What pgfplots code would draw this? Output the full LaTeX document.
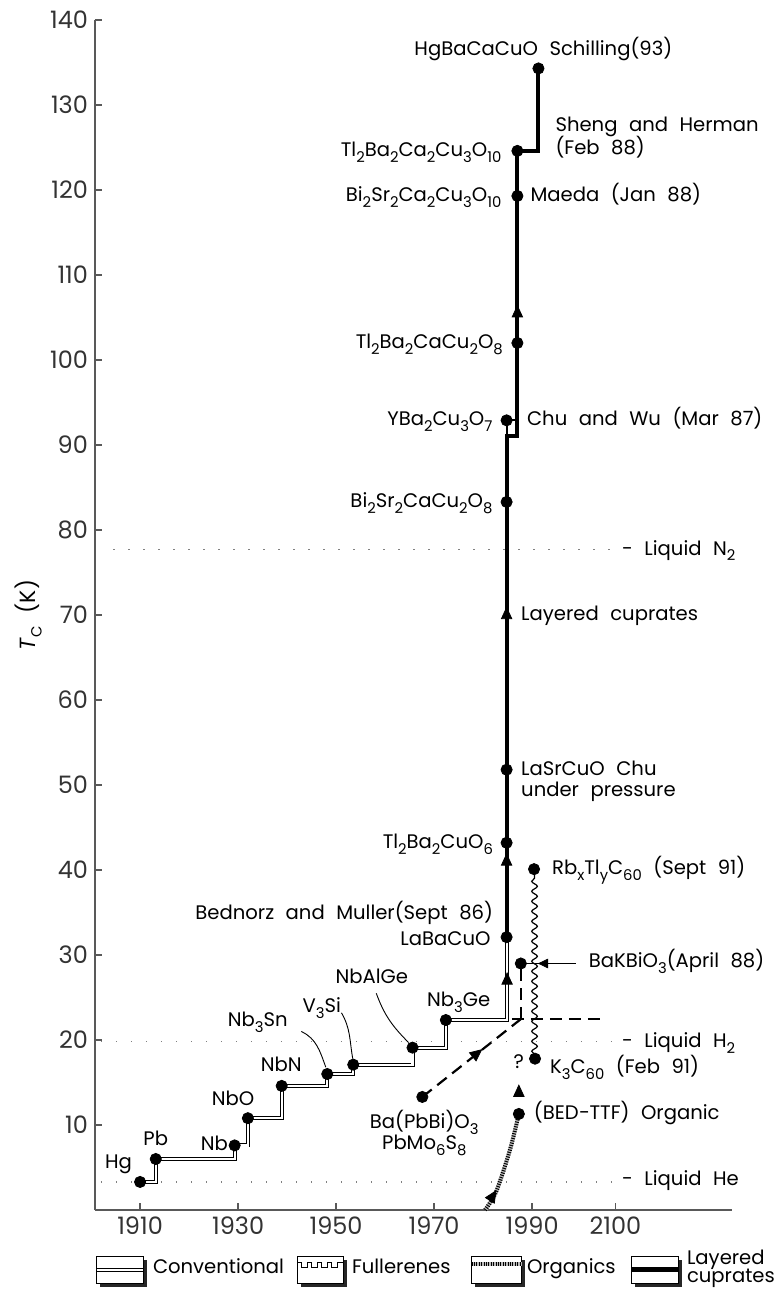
\documentclass[border=0pt]{standalone}
\usepackage{fontspec}
\setmainfont{Poppins}[WordSpace=2.2]
\usepackage{pgfplots}
\pgfplotsset{compat=1.18}
\usetikzlibrary{decorations.pathmorphing,calc}
\newcommand{\s}[1]{\raisebox{-0.55ex}{\fontsize{7.4}{8}\selectfont #1}}
\definecolor{axgray}{gray}{0.35}

\begin{document}
\begin{tikzpicture}[font=\fontsize{9.8}{11.8}\selectfont]
\begin{axis}[name=ax, scale only axis, width=318.5pt, height=595pt,
  xmin=1900.8, xmax=2030.8, ymin=0, ymax=140,
  axis x line*=bottom, axis y line*=left,
  axis line style={axgray, line width=0.9pt, -},
  xtick={1910,1930,1950,1970,1990,2007},
  xticklabels={1910,1930,1950,1970,1990,2100},
  ytick={10,20,...,140},
  tick style={axgray, line width=0.8pt}, major tick length=3.5pt,
  tick align=inside,
  /pgf/number format/assume math mode=true,
  tick label style={font=\fontsize{12}{14}\selectfont, text=black!80},
  ylabel={\textit{T}\s{C} (K)},
  ylabel style={at={(rel axis cs:-0.105,0.5)}, anchor=center, font=\fontsize{11}{13}\selectfont},
  clip=false]

% liquid He, H2, N2
\addplot[gray, line width=0.7pt, dash pattern=on 0.7pt off 6.8pt] coordinates {(1904.5,77.7) (2008,77.7)};
\addplot[gray, line width=0.7pt, dash pattern=on 0.7pt off 6.8pt] coordinates {(1902,19.8) (2008,19.8)};
\addplot[gray, line width=0.7pt, dash pattern=on 0.7pt off 6.8pt] coordinates {(1902,3.3) (2008,3.3)};

% conventional
\addplot[const plot, draw=black, double=white, line width=0.45pt, double distance=1.1pt] coordinates {
  (1910,3.3) (1913.2,6.0) (1929.3,7.6) (1932,10.8) (1938.9,14.6) (1948.2,16.0)
  (1953.5,17.1) (1965.6,19.1) (1972.4,22.35) (1984.9,32.1)};

% layered cuprates
\addplot[black, line width=2pt] coordinates {
  (1984.8,32.1) (1984.8,91.0) (1987.0,91.0) (1987.0,124.6) (1991.3,124.6) (1991.3,134.3)};
\addplot[black, line width=1pt] coordinates {(1984.8,90.5) (1984.8,92.9) (1987.0,92.9)};

% fullerenes
\addplot[black, line width=0.6pt, decorate, decoration={snake, amplitude=1.4pt, segment length=5pt}]
  coordinates {(1990.5,18.3) (1990.5,39.6)};

% bismuthates (dashed)
\addplot[black, line width=1.1pt, dash pattern=on 6pt off 3.5pt] coordinates {(1967.6,13.3) (1987.8,22.5)};
\addplot[black, line width=1.1pt, dash pattern=on 6pt off 3.5pt] coordinates {(1987.8,22.5) (1987.8,29.0)};
\addplot[black, line width=1.1pt, dash pattern=on 6pt off 3.5pt] coordinates {(1985.9,22.5) (2004.3,22.5)};

% organics
\addplot[gray!55, line width=2pt, smooth] coordinates {(1980.4,0) (1982.7,2.2) (1985.5,7.1) (1987.3,11.3)};
\addplot[black, line width=2pt, smooth, dash pattern=on 0.5pt off 0.7pt] coordinates {(1980.4,0) (1982.7,2.2) (1985.5,7.1) (1987.3,11.3)};

% BaKBiO3 pointer
\addplot[black, line width=0.5pt] coordinates {(1987.7,29.0) (1998.9,29.0)};

% arrow heads
\addplot[only marks, mark=triangle*, mark size=3pt, every mark/.append style={yscale=1.25}] coordinates {
  (1984.9,27) (1984.8,41.0) (1984.8,70) (1987.0,105.5) (1987.3,13.8)};
\addplot[only marks, mark=triangle*, mark size=3pt, every mark/.append style={rotate=-51, yscale=1.25}] coordinates {(1978.5,18.3)};
\addplot[only marks, mark=triangle*, mark size=3pt, every mark/.append style={rotate=-32, yscale=1.25}] coordinates {(1981.8,1.5)};
\addplot[only marks, mark=triangle*, mark size=2.5pt, every mark/.append style={rotate=90, yscale=1.2}] coordinates {(1992.6,29.0)};

% materials
\addplot[only marks, mark=*, mark size=2.8pt, black] coordinates {
  (1910,3.3) (1913.2,6.0) (1929.3,7.6) (1932,10.8) (1938.9,14.6) (1948.2,16.0)
  (1953.5,17.1) (1965.6,19.1) (1972.4,22.35)
  (1984.8,32.1) (1984.8,43.2) (1984.8,51.8) (1984.8,83.3) (1984.8,92.9)
  (1987.0,102) (1987.0,119.3) (1987.0,124.6) (1991.3,134.3)
  (1967.6,13.3) (1987.7,29.0) (1987.3,11.3) (1990.6,17.8) (1990.4,40.1)};

% leaders
\draw[line width=0.45pt] (axis cs:1942.9,21.0) to[out=-25,in=110] (axis cs:1947.9,16.8);
\draw[line width=0.45pt] (axis cs:1951.1,23.2) to[out=-60,in=100] (axis cs:1953.4,17.8);
\draw[line width=0.45pt] (axis cs:1958.2,25.5) to[out=-70,in=135] (axis cs:1964.8,19.7);

% labels
\begin{scope}[every node/.style={inner sep=0pt}]
\node[anchor=mid] at (axis cs:1992.3,136.5) {HgBaCaCuO Schilling(93)};
\node[anchor=mid west] at (axis cs:1994.7,127.5) {Sheng and Herman};
\node[anchor=mid west] at (axis cs:1994.7,124.8) {(Feb 88)};
\node[anchor=mid east] at (axis cs:1983.8,124.6) {Tl\s2Ba\s2Ca\s2Cu\s3O\s{10}};
\node[anchor=mid east] at (axis cs:1983.8,119.3) {Bi\s2Sr\s2Ca\s2Cu\s3O\s{10}};
\node[anchor=mid west] at (axis cs:1989.6,119.3) {Maeda (Jan 88)};
\node[anchor=mid east] at (axis cs:1984.1,102.0) {Tl\s2Ba\s2CaCu\s2O\s8};
\node[anchor=mid east] at (axis cs:1982.0,92.9) {YBa\s2Cu\s3O\s7};
\node[anchor=mid west] at (axis cs:1988.9,92.9) {Chu and Wu (Mar 87)};
\node[anchor=mid east] at (axis cs:1982.0,83.3) {Bi\s2Sr\s2CaCu\s2O\s8};
\node[anchor=mid west] at (axis cs:2008.3,77.7) {- Liquid N\s2};
\node[anchor=mid west] at (axis cs:1987.7,70) {Layered cuprates};
\node[anchor=mid west] at (axis cs:1987.7,51.8) {LaSrCuO Chu};
\node[anchor=mid west] at (axis cs:1987.7,49.3) {under pressure};
\node[anchor=mid east] at (axis cs:1982.1,43.2) {Tl\s2Ba\s2CuO\s6};
\node[anchor=mid east] at (axis cs:1982.1,34.8) {Bednorz and Muller(Sept 86)};
\node[anchor=mid east] at (axis cs:1981.6,31.8) {LaBaCuO};
\node[anchor=mid] at (axis cs:1975.0,24.6) {Nb\s3Ge};
\node[anchor=mid] at (axis cs:1957.3,27.3) {NbAlGe};
\node[anchor=mid] at (axis cs:1947.1,23.9) {V\s3Si};
\node[anchor=mid] at (axis cs:1934.0,22.2) {Nb\s3Sn};
\node[anchor=mid] at (axis cs:1938.8,16.9) {NbN};
\node[anchor=mid] at (axis cs:1929.0,12.9) {NbO};
\node[anchor=mid east] at (axis cs:1928.0,7.6) {Nb};
\node[anchor=mid] at (axis cs:1913.2,8.2) {Pb};
\node[anchor=mid] at (axis cs:1905.6,5.5) {Hg};
\node[anchor=mid west] at (axis cs:1994.0,40.1) {Rb\s xTl\s yC\s{60} (Sept 91)};
\node[anchor=mid west] at (axis cs:2001.5,29.2) {BaKBiO\s3(April 88)};
\node[anchor=mid west] at (axis cs:2008.3,19.8) {- Liquid H\s2};
\node[anchor=mid west] at (axis cs:2008.3,3.5) {- Liquid He};
\node[anchor=mid] at (axis cs:1987.3,17.3) {?};
\node[anchor=mid west] at (axis cs:1993.6,16.7) {K\s3C\s{60} (Feb 91)};
\node[anchor=mid west] at (axis cs:1990.3,11.3) {(BED−TTF) Organic};
\node[anchor=mid] at (axis cs:1968.0,10.2) {Ba(PbBi)O\s3};
\node[anchor=mid] at (axis cs:1968.0,7.8) {PbMo\s6S\s8};
\end{scope}
\end{axis}

% legend keys
\begin{scope}[shift={(ax.south west)}, x=1pt, y=1pt]
  \foreach \xa/\xb in {0.85/24.2, 101.3/124.2, 188.3/213.3, 268.3/291.7} {
    \fill[black!85] ({\xa+1.6},-24.9) rectangle ({\xb+1.6},-38.3);
    \filldraw[fill=white, draw=black, line width=0.6pt] (\xa,-23.3) rectangle (\xb,-36.7);
  }
  \draw[draw=black, double=white, line width=0.45pt, double distance=1.1pt] (0.85,-30) -- (24.2,-30);
  \draw[line width=0.5pt] (101.3,-26) -- (103.3,-26) -- (103.3,-28.8) -- (106.3,-28.8) -- (106.3,-26)
    -- (108.3,-26) -- (108.3,-28.8) -- (111.3,-28.8) -- (111.3,-26)
    -- (113.3,-26) -- (113.3,-28.8) -- (116.3,-28.8) -- (116.3,-26)
    -- (118.3,-26) -- (118.3,-28.8) -- (121.3,-28.8) -- (121.3,-26) -- (124.2,-26);
  \draw[gray!55, line width=2pt] (188.3,-27) -- (213.3,-27);
  \draw[black, line width=2pt, dash pattern=on 0.5pt off 0.7pt] (188.3,-27) -- (213.3,-27);
  \draw[black, line width=2.6pt] (268.3,-29.8) -- (291.7,-29.8);
  \node[anchor=mid west, inner sep=0pt] at (28.8,-29) {Conventional};
  \node[anchor=mid west, inner sep=0pt] at (128.3,-29) {Fullerenes};
  \node[anchor=mid west, inner sep=0pt] at (215.8,-29) {Organics};
  \node[anchor=mid west, inner sep=0pt] at (295.8,-24.5) {Layered};
  \node[anchor=mid west, inner sep=0pt] at (295.8,-33.5) {cuprates};
\end{scope}

\pgfresetboundingbox
\path[use as bounding box] ([shift={(-47.5pt,-40pt)}]ax.south west) rectangle ([shift={(339.5pt,605pt)}]ax.south west);
\end{tikzpicture}
\end{document}
